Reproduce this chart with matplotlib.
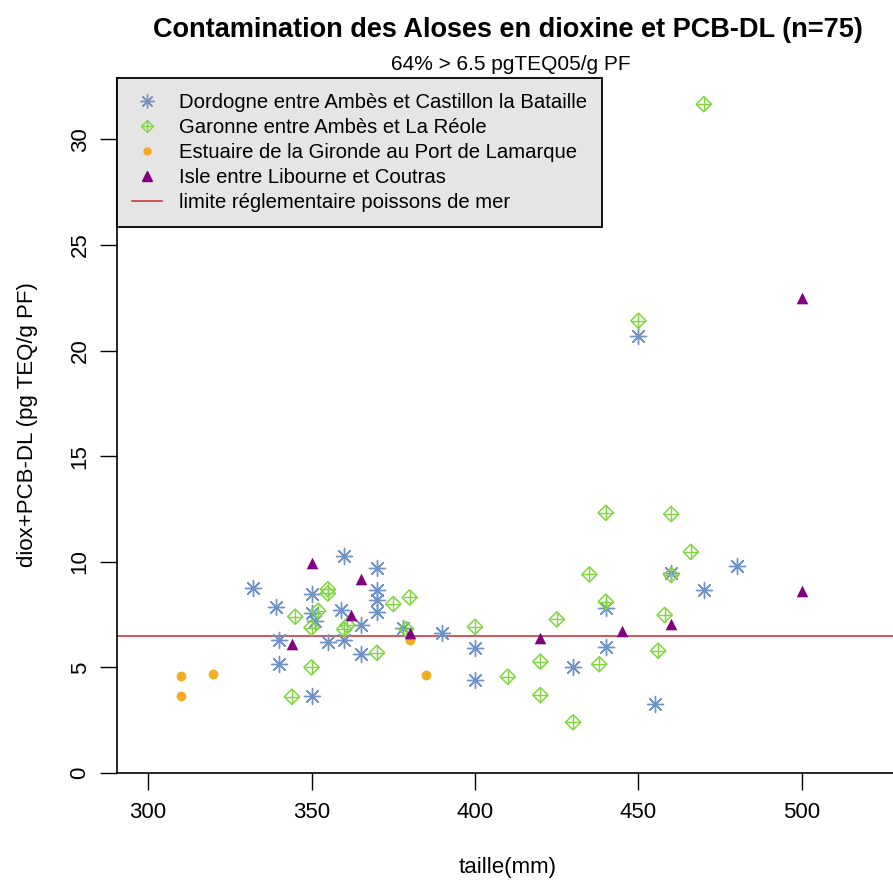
import matplotlib
matplotlib.use("Agg")
import matplotlib.pyplot as plt
from matplotlib.lines import Line2D

plt.rcParams['font.family'] = ['Liberation Sans', 'DejaVu Sans']

# ---- data ----
dordogne_x = [332, 339, 340, 340, 350, 350, 350, 351, 355, 360, 359, 365, 360, 370, 370, 370, 370, 365,
              378, 390, 400, 400, 430, 440, 440, 455, 460, 470, 480, 450]
dordogne_y = [8.74, 7.84, 6.29, 5.14, 3.66, 8.47, 7.56, 7.2, 6.21, 10.28, 7.71, 7.0, 6.29, 9.69, 8.66, 8.19, 7.64, 5.63,
              6.85, 6.64, 5.90, 4.40, 5.03, 7.79, 5.95, 3.27, 9.48, 8.66, 9.80, 20.70]

garonne_x = [344, 350, 345, 350, 352, 355, 355, 360, 361, 375, 380, 379, 370, 400, 410, 420, 420, 425, 430,
             435, 438, 440, 460, 466, 460, 440, 458, 456, 470, 450]
garonne_y = [3.61, 5.0, 7.40, 6.88, 7.68, 8.7, 8.5, 6.8, 7.0, 8.0, 8.31, 6.81, 5.69, 6.92, 4.56, 5.27, 3.69, 7.27, 2.40,
             9.40, 5.15, 12.32, 12.26, 10.47, 9.37, 8.11, 7.48, 5.79, 31.66, 21.41]

estuaire_x = [310, 310, 320, 380, 385]
estuaire_y = [4.6, 3.65, 4.7, 6.3, 4.65]

isle_x = [344, 350, 362, 365, 380, 420, 445, 460, 500, 500]
isle_y = [6.12, 9.92, 7.48, 9.17, 6.62, 6.37, 6.72, 7.05, 8.61, 22.47]

limite = 6.5

labels = ["Dordogne entre Ambès et Castillon la Bataille",
          "Garonne entre Ambès et La Réole",
          "Estuaire de la Gironde au Port de Lamarque",
          "Isle entre Libourne et Coutras",
          "limite réglementaire poissons de mer"]
title = "Contamination des Aloses en dioxine et PCB-DL (n=75)"
subtitle = "64% > 6.5 pgTEQ05/g PF"
xticks = [300, 350, 400, 450, 500]
yticks = [0, 5, 10, 15, 20, 25, 30]

c_blue = '#6f93c9'
c_green = '#7fd63c'
c_orange = '#f2ac22'
c_purple = '#800080'
c_red = '#cc3b3b'

W, H = 893, 881
fig = plt.figure(figsize=(W / 100, H / 100), dpi=100)
ax = fig.add_axes([117 / W, 1 - 773 / H, (900 - 117) / W, (773 - 78) / H])
ax.set_xlim(290.5, 530)
ax.set_ylim(0, 32.9)

ax.axhline(limite, color=c_red, lw=1.2, zorder=1)

ast = (8, 2, 0)
ax.scatter(dordogne_x, dordogne_y, marker=ast, s=135, c=c_blue, linewidths=1.0, zorder=3)
ax.scatter(garonne_x, garonne_y, marker='D', s=60, facecolors='none', edgecolors=c_green, linewidths=1.1, zorder=3)
ax.scatter(garonne_x, garonne_y, marker='+', s=115, c=c_green, linewidths=1.0, zorder=3)
ax.scatter(estuaire_x, estuaire_y, marker='o', s=50, c=c_orange, linewidths=0, zorder=3)
ax.scatter(isle_x, isle_y, marker='^', s=70, c=c_purple, linewidths=0, zorder=3)

for s in ['top', 'right']:
    ax.spines[s].set_visible(False)
for s in ['left', 'bottom']:
    ax.spines[s].set_linewidth(1.2)
ax.set_xticks(xticks)
ax.set_yticks(yticks)
ax.tick_params(axis='both', length=12, width=1.0, labelsize=16)
ax.tick_params(axis='x', pad=9)
ax.tick_params(axis='y', pad=7)
for lab in ax.get_yticklabels():
    lab.set_rotation(90)
    lab.set_va('center')

fig.text(508 / W, 1 - 30 / H, title, ha='center', va='center', fontsize=19.5, fontweight='bold')
fig.text(511 / W, 1 - 65 / H, subtitle, ha='center', va='center', fontsize=15)
fig.text(508 / W, 1 - 868 / H, "taille(mm)", ha='center', va='center', fontsize=16)
fig.text(28 / W, 1 - 425 / H, "diox+PCB-DL (pg TEQ/g PF)", ha='center', va='center', fontsize=16, rotation=90)

h_blue = Line2D([], [], ls='none', marker=ast, ms=10, color=c_blue, mew=1.0)
h_g1 = Line2D([], [], ls='none', marker='D', ms=6.5, mfc='none', mec=c_green, mew=1.0)
h_g2 = Line2D([], [], ls='none', marker='+', ms=9, color=c_green, mew=1.0)
h_or = Line2D([], [], ls='none', marker='o', ms=5, color=c_orange)
h_pu = Line2D([], [], ls='none', marker='^', ms=6.5, color=c_purple)
h_li = Line2D([], [], color=c_red, lw=1.2)
leg = ax.legend([h_blue, (h_g1, h_g2), h_or, h_pu, h_li], labels, loc='upper left',
                bbox_to_anchor=(0, 1), borderaxespad=0, fancybox=False, framealpha=1,
                facecolor='#e5e5e5', edgecolor='black', fontsize=14.6, handlelength=1.5,
                handletextpad=0.85, labelspacing=0.3, borderpad=0.72)
leg.get_frame().set_linewidth(1.3)

fig.savefig("out.png", dpi=100)
